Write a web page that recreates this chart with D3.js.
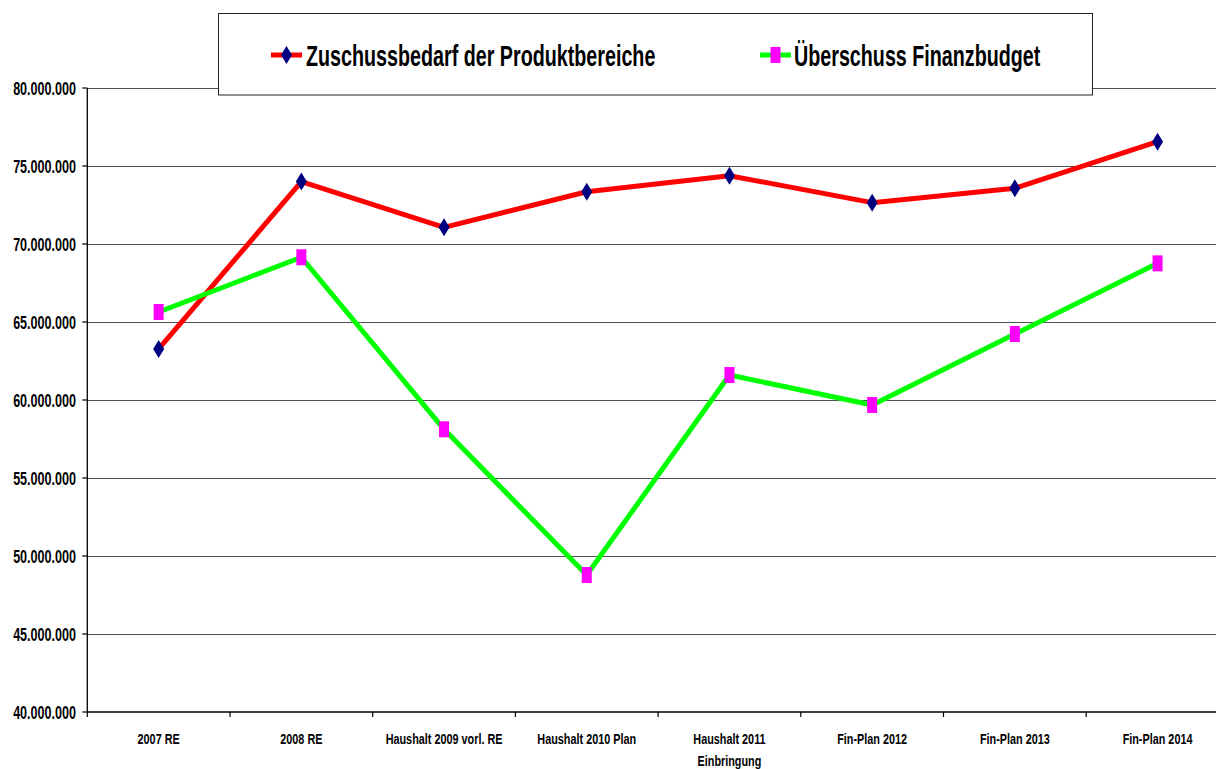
<!DOCTYPE html>
<html>
<head>
<meta charset="utf-8">
<script src="https://cdn.jsdelivr.net/npm/d3@7"></script>
<style>
  body { margin: 0; background: #fff; }
  svg { display: block; font-family: "Liberation Sans", Arial, sans-serif; font-weight: bold; }
</style>
</head>
<body>
<svg width="1216" height="769"></svg>
<script>
var categories = ["2007 RE", "2008 RE", "Haushalt 2009 vorl. RE", "Haushalt 2010 Plan",
                  "Haushalt 2011\nEinbringung", "Fin-Plan 2012", "Fin-Plan 2013", "Fin-Plan 2014"];
var zuschuss = [63270000, 74000000, 71070000, 73350000, 74380000, 72650000, 73570000, 76560000];
var ueberschuss = [65640000, 69150000, 58120000, 48780000, 61600000, 59680000, 64230000, 68760000];
var yTicks = [40000000, 45000000, 50000000, 55000000, 60000000, 65000000, 70000000, 75000000, 80000000];
var seriesNames = ["Zuschussbedarf der Produktbereiche", "Überschuss Finanzbudget"];

var svg = d3.select("svg"),
    width = +svg.attr("width"),
    height = +svg.attr("height");

// the original picture is squeezed horizontally, text too
var squeeze = 0.68;

var plotLeft = 87.3, bandW = 142.7, plotTop = 88, plotBottom = 712;

var x = d3.scaleBand()
    .domain(categories)
    .range([plotLeft, plotLeft + bandW * categories.length]);

var y = d3.scaleLinear()
    .domain([40000000, 80000000])
    .range([plotBottom, plotTop]);

var de = d3.formatLocale({decimal: ",", thousands: ".", grouping: [3], currency: ["", " €"]});
var fmt = de.format(",d");

// gridlines
svg.append("g")
    .selectAll("line")
    .data(yTicks.slice(1))
    .enter().append("line")
    .attr("x1", plotLeft).attr("x2", width)
    .attr("y1", d => Math.round(y(d)) + 0.5).attr("y2", d => Math.round(y(d)) + 0.5)
    .attr("stroke", "#505050")
    .attr("stroke-width", 1.2);

// y axis
var yAxis = svg.append("g");
yAxis.append("line")
    .attr("x1", plotLeft).attr("x2", plotLeft)
    .attr("y1", plotTop).attr("y2", plotBottom)
    .attr("stroke", "#000").attr("stroke-width", 1.3);
yAxis.selectAll(".tick")
    .data(yTicks)
    .enter().append("line")
    .attr("x1", plotLeft - 5).attr("x2", plotLeft)
    .attr("y1", d => y(d)).attr("y2", d => y(d))
    .attr("stroke", "#000").attr("stroke-width", 1.2);
yAxis.selectAll("text")
    .data(yTicks)
    .enter().append("text")
    .attr("transform", d => "translate(76," + (y(d) + 6.5) + ") scale(" + squeeze + ",1)")
    .attr("text-anchor", "end")
    .style("font-size", "18.5px")
    .attr("fill", "#000")
    .text(d => fmt(d));

// x axis
var xAxis = svg.append("g");
xAxis.append("line")
    .attr("x1", plotLeft).attr("x2", width)
    .attr("y1", plotBottom).attr("y2", plotBottom)
    .attr("stroke", "#000").attr("stroke-width", 1.3);
xAxis.selectAll(".tick")
    .data(d3.range(categories.length + 1))
    .enter().append("line")
    .attr("x1", i => plotLeft + i * bandW).attr("x2", i => plotLeft + i * bandW)
    .attr("y1", plotBottom).attr("y2", plotBottom + 5)
    .attr("stroke", "#000").attr("stroke-width", 1.2);
var xLabels = xAxis.selectAll("text")
    .data(categories)
    .enter().append("text")
    .attr("transform", d => "translate(" + (x(d) + x.bandwidth() / 2) + ",744) scale(0.7,1)")
    .attr("text-anchor", "middle")
    .style("font-size", "15.5px")
    .attr("fill", "#000");
xLabels.selectAll("tspan")
    .data(d => d.split("\n"))
    .enter().append("tspan")
    .attr("x", 0)
    .attr("dy", (d, i) => i ? 22 : 0)
    .text(d => d);

// legend box
var legend = svg.append("g");
legend.append("rect")
    .attr("x", 218.5).attr("y", 13.5)
    .attr("width", 874).attr("height", 81.5)
    .attr("fill", "#fff")
    .attr("stroke", "#222").attr("stroke-width", 1);

function diamond(g, cx, cy) {
  g.append("path")
    .attr("d", "M" + cx + "," + (cy - 9) + "L" + (cx + 5.5) + "," + cy + "L" + cx + "," + (cy + 9) + "L" + (cx - 5.5) + "," + cy + "Z")
    .attr("fill", "#000080");
}
function square(g, cx, cy) {
  g.append("rect")
    .attr("x", cx - 5).attr("y", cy - 8)
    .attr("width", 10).attr("height", 16)
    .attr("fill", "#ff00ff");
}

var legendItems = [
  {name: seriesNames[0], color: "#ff0000", x0: 271, marker: diamond, tx: 306},
  {name: seriesNames[1], color: "#00ff00", x0: 760, marker: square, tx: 794}
];
legendItems.forEach(function(it) {
  legend.append("line")
    .attr("x1", it.x0).attr("x2", it.x0 + 31)
    .attr("y1", 55).attr("y2", 55)
    .attr("stroke", it.color).attr("stroke-width", 5);
  it.marker(legend, it.x0 + 15.5, 55);
  legend.append("text")
    .attr("transform", "translate(" + it.tx + ",65.5) scale(" + squeeze + ",1)")
    .style("font-size", "29px")
    .attr("fill", "#000")
    .text(it.name);
});

// series
var line = d3.line()
    .x((d, i) => x(categories[i]) + x.bandwidth() / 2)
    .y(d => y(d));

svg.append("path")
    .datum(zuschuss)
    .attr("d", line)
    .attr("fill", "none")
    .attr("stroke", "#ff0000")
    .attr("stroke-width", 5)
    .attr("stroke-linejoin", "round");

svg.append("path")
    .datum(ueberschuss)
    .attr("d", line)
    .attr("fill", "none")
    .attr("stroke", "#00ff00")
    .attr("stroke-width", 5)
    .attr("stroke-linejoin", "round");

var markers = svg.append("g");
zuschuss.forEach(function(v, i) {
  diamond(markers, x(categories[i]) + x.bandwidth() / 2, y(v));
});
ueberschuss.forEach(function(v, i) {
  square(markers, x(categories[i]) + x.bandwidth() / 2, y(v));
});
</script>
</body>
</html>
